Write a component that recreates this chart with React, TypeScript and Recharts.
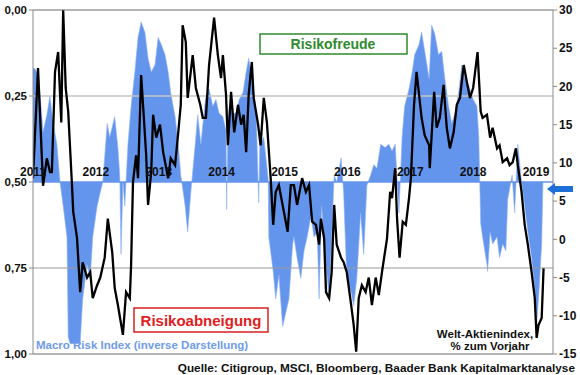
import { Area, ComposedChart, Line, ReferenceDot, ReferenceLine, XAxis, YAxis } from 'recharts';

// Welt-Aktienindex, % zum Vorjahr (rechte Achse) – Zeit in Jahren seit Jan 2011
const stockYears = [
  0.0, 0.08, 0.16, 0.22, 0.27, 0.3, 0.35, 0.4, 0.45, 0.48, 0.52, 0.56, 0.62, 0.64, 0.7, 0.75, 0.79, 0.86,
  0.91, 0.95, 1.02, 1.07, 1.14, 1.19, 1.26, 1.3, 1.35, 1.43, 1.48, 1.54, 1.56, 1.59, 1.64, 1.67, 1.72, 1.75,
  1.8, 1.83, 1.88, 1.91, 1.96, 2.02, 2.07, 2.15, 2.19, 2.26, 2.31, 2.35, 2.38, 2.43, 2.46, 2.54, 2.59, 2.66,
  2.7, 2.75, 2.8, 2.88, 2.94, 2.99, 3.02, 3.07, 3.1, 3.15, 3.2, 3.26, 3.31, 3.35, 3.39, 3.43, 3.48, 3.51,
  3.58, 3.62, 3.67, 3.72, 3.78, 3.82, 3.86, 3.91, 3.99, 4.05, 4.1, 4.15, 4.2, 4.28, 4.34, 4.39, 4.44, 4.5,
  4.55, 4.58, 4.63, 4.66, 4.71, 4.75, 4.79, 4.83, 4.9, 4.94, 4.99, 5.06, 5.1, 5.14, 5.18, 5.23, 5.29, 5.34,
  5.39, 5.45, 5.5, 5.55, 5.63, 5.68, 5.71, 5.76, 5.79, 5.83, 5.88, 5.93, 5.98, 6.01, 6.06, 6.1, 6.14, 6.18,
  6.23, 6.3, 6.31, 6.38, 6.42, 6.47, 6.53, 6.58, 6.63, 6.69, 6.74, 6.79, 6.85, 6.9, 6.95, 7.0, 7.07, 7.12,
  7.15, 7.22, 7.27, 7.31, 7.38, 7.42, 7.47, 7.54, 7.58, 7.63, 7.68, 7.71, 7.77, 7.82, 7.87, 7.93, 7.98, 8.01,
  8.04, 8.09, 8.12,
];
const stockValues = [
  8, 22.4, 7, 10.6, 8.8, 8.8, 21.9, 24.5, 15.3, 30, 19.8, 16.7, 7.1, 3.6, 0.2, -6.9, -3, -5,
  -4.3, -7.7, -6, -5, -2.4, 2.7, -1.7, -6.4, -8.6, -12.5, -6.9, -7.7, -3.4, 7.5, 11, 8, 21.5, 17.6,
  11, 4.5, 8.8, 16.3, 13.3, 15, 11.4, 8, 10.6, 9.7, 14, 17.6, 28, 25.8, 18.5, 24.1, 19.8, 17.6,
  15.9, 15.9, 22.8, 29, 24.1, 21.1, 24.1, 18.9, 12.3, 19.3, 14, 17.6, 15, 16.3, 11.4, 18.9, 23.2, 18.5,
  15, 12.3, 18.5, 15.3, 8, 1.9, 6.2, 7.1, 3.6, 1, 7.1, 7.1, 4.5, 8, 6.2, 7.1, 2.3, 1.9,
  -0.7, 2.7, 0.1, -6.9, -7.7, -4.3, 4.5, -0.7, -2.4, -3, -4.3, -8.6, -11.2, -14.7, -7.7, -6, -6.9, -5,
  -8.6, -5, -7.3, -4.3, 0.1, 6.2, 5.4, 9.3, 2.7, -2.4, 2.3, 1.9, 5.4, 8, 17.6, 21.9, 18.9, 15.9,
  13.6, 12.3, 9.3, 19.3, 14.6, 15.9, 20.2, 14.6, 11.9, 14, 17.6, 18.5, 22.8, 20.6, 18.5, 19.8, 24.5, 16.7,
  15.9, 16.3, 13.3, 14.6, 11.9, 12.3, 10.1, 10.6, 9.7, 10.1, 11.9, 9.7, 6.2, 1.9, -0.7, -4.3, -7.7, -12.9,
  -11.2, -10.3, -3.8,
];

// Macro Risk Index (linke Achse, invertiert) – Zeit in Jahren seit Jan 2011
const riskYears = [
  0.0, 0.03, 0.06, 0.11, 0.16, 0.22, 0.27, 0.32, 0.38, 0.43, 0.48, 0.54, 0.56, 0.59, 0.67, 0.75, 0.79, 0.86,
  0.91, 0.95, 1.02, 1.07, 1.11, 1.18, 1.22, 1.3, 1.35, 1.38, 1.4, 1.43, 1.46, 1.51, 1.56, 1.62, 1.67, 1.72,
  1.78, 1.83, 1.88, 1.94, 1.99, 2.04, 2.1, 2.15, 2.19, 2.26, 2.31, 2.35, 2.42, 2.46, 2.51, 2.58, 2.62, 2.67,
  2.73, 2.75, 2.8, 2.86, 2.91, 2.96, 3.02, 3.07, 3.08, 3.1, 3.12, 3.18, 3.23, 3.28, 3.34, 3.39, 3.43, 3.5,
  3.55, 3.59, 3.61, 3.62, 3.67, 3.74, 3.75, 3.82, 3.86, 3.91, 3.97, 4.02, 4.07, 4.13, 4.15, 4.2, 4.26, 4.31,
  4.36, 4.42, 4.47, 4.52, 4.55, 4.59, 4.66, 4.71, 4.75, 4.79, 4.83, 4.9, 4.94, 4.99, 5.06, 5.1, 5.15, 5.21,
  5.26, 5.31, 5.37, 5.42, 5.47, 5.53, 5.6, 5.66, 5.71, 5.76, 5.82, 5.87, 5.91, 5.98, 6.03, 6.07, 6.14, 6.18,
  6.23, 6.3, 6.34, 6.39, 6.45, 6.5, 6.55, 6.61, 6.66, 6.71, 6.77, 6.82, 6.87, 6.93, 7.0, 7.06, 7.09, 7.12,
  7.15, 7.22, 7.23, 7.27, 7.31, 7.38, 7.42, 7.47, 7.52, 7.55, 7.62, 7.66, 7.71, 7.77, 7.82, 7.87, 7.93, 7.98,
  8.01, 8.04, 8.09, 8.11,
];
const riskValues = [
  0.17, 0.17, 0.18, 0.24, 0.355, 0.305, 0.25, 0.33, 0.39, 0.5, 0.57, 0.66, 0.95, 0.97, 0.97, 0.97, 0.84, 0.74,
  0.78, 0.66, 0.57, 0.53, 0.5, 0.33, 0.37, 0.31, 0.4, 0.48, 0.71, 0.5, 0.57, 0.39, 0.28, 0.18, 0.08, 0.035,
  0.065, 0.14, 0.18, 0.16, 0.08, 0.1, 0.13, 0.18, 0.24, 0.31, 0.39, 0.48, 0.57, 0.645, 0.53, 0.39, 0.305, 0.39,
  0.28, 0.25, 0.23, 0.28, 0.26, 0.3, 0.31, 0.35, 0.58, 0.33, 0.28, 0.3, 0.3, 0.26, 0.24, 0.18, 0.14, 0.22,
  0.3, 0.56, 0.35, 0.39, 0.37, 0.49, 0.66, 0.76, 0.84, 0.77, 0.92, 0.88, 0.84, 0.68, 0.66, 0.72, 0.78, 0.7,
  0.66, 0.6, 0.66, 0.645, 0.84, 0.57, 0.74, 0.84, 0.66, 0.48, 0.5, 0.43, 0.53, 0.78, 0.82, 0.86, 0.78, 0.59,
  0.71, 0.51, 0.48, 0.45, 0.46, 0.39, 0.4, 0.39, 0.41, 0.39, 0.59, 0.37, 0.28, 0.23, 0.18, 0.13, 0.1, 0.064,
  0.12, 0.2, 0.044, 0.07, 0.13, 0.12, 0.2, 0.28, 0.33, 0.3, 0.24, 0.16, 0.2, 0.22, 0.26, 0.28, 0.37, 0.62,
  0.66, 0.74, 0.76, 0.645, 0.68, 0.66, 0.72, 0.68, 0.7, 0.55, 0.48, 0.59, 0.39, 0.5, 0.57, 0.645, 0.72, 0.81,
  0.91, 0.84, 0.68, 0.5,
];

const yearLabels = [2011, 2012, 2013, 2014, 2015, 2016, 2017, 2018, 2019];
const leftTicks = [0, 0.25, 0.5, 0.75, 1];
const rightTicks = [-15, -10, -5, 0, 5, 10, 15, 20, 25, 30];

const stockData = stockYears.map((y, i) => ({ t: 2011 + y, v: stockValues[i] }));
const riskData = riskYears.map((y, i) => ({ t: 2011 + y, v: riskValues[i] }));

const FONT = 'Arial, "Liberation Sans", sans-serif';
const BLUE = '#6495ED';

export default function App() {
  return (
    <div style={{ position: 'absolute', left: 0, top: 0, width: 580, height: 375, background: '#fff', fontFamily: FONT }}>
      <ComposedChart width={580} height={375} margin={{ top: 10, right: 0, bottom: 21, left: 0 }}>
        <XAxis dataKey="t" type="number" domain={[2011, 2019.27]} allowDataOverflow hide />
        <YAxis
          yAxisId="left"
          orientation="left"
          domain={[0, 1]}
          reversed
          ticks={leftTicks}
          width={33}
          tickSize={4}
          tickFormatter={(v: number) => v.toFixed(2).replace('.', ',')}
          tick={{ fill: '#111', fontSize: 11.5, fontWeight: 700, fontFamily: FONT }}
          axisLine={{ stroke: '#8a8a8a' }}
          tickLine={{ stroke: '#8a8a8a' }}
        />
        <YAxis
          yAxisId="right"
          orientation="right"
          domain={[-15, 30]}
          ticks={rightTicks}
          width={27}
          tickSize={4}
          tick={{ fill: '#111', fontSize: 12, fontWeight: 700, fontFamily: FONT }}
          axisLine={{ stroke: '#8a8a8a' }}
          tickLine={{ stroke: '#8a8a8a' }}
        />
        <ReferenceLine yAxisId="left" y={0.25} stroke="#c4c4c4" strokeWidth={1.5} />
        <ReferenceLine yAxisId="left" y={0.75} stroke="#9a9a9a" />
        <Area
          yAxisId="left"
          data={riskData}
          dataKey="v"
          type="linear"
          baseValue={0.5}
          fill={BLUE}
          fillOpacity={1}
          stroke="#8fb3f2"
          strokeWidth={0.6}
          isAnimationActive={false}
        />
        <ReferenceLine yAxisId="left" y={0.5} stroke={BLUE} strokeWidth={1.5} />
        {yearLabels.map((y) => (
          <ReferenceDot
            key={y}
            yAxisId="left"
            x={y}
            y={0.5}
            r={0}
            fill="none"
            stroke="none"
            label={{ value: String(y), position: 'top', offset: 6, fill: '#111', fontSize: 12, fontWeight: 700, fontFamily: FONT }}
          />
        ))}
        <Line
          yAxisId="right"
          data={stockData}
          dataKey="v"
          type="linear"
          stroke="#000"
          strokeWidth={2.3}
          dot={false}
          isAnimationActive={false}
        />
        <ReferenceLine yAxisId="left" y={0} stroke="#6a6a6a" />
        <ReferenceLine yAxisId="left" y={1} stroke="#6a6a6a" />
      </ComposedChart>
      <svg width={580} height={375} style={{ position: 'absolute', left: 0, top: 0, pointerEvents: 'none' }}>
        <rect x={260} y={34} width={147} height={20} fill="#fff" stroke="#2e8b2e" strokeWidth={1.5} />
        <text x={333} y={49} textAnchor="middle" fill="#2e8b2e" fontSize={14} fontWeight={700} fontFamily={FONT}>
          Risikofreude
        </text>
        <rect x={134} y={308} width={134} height={24} fill="#fff" stroke="#d92020" strokeWidth={1.5} />
        <text x={201} y={326} textAnchor="middle" fill="#e02020" fontSize={15} fontWeight={700} fontFamily={FONT}>
          Risikoabneigung
        </text>
        <text x={36} y={349} fill="#6f9be9" fontSize={11.5} fontWeight={700} fontFamily={FONT}>
          Macro Risk Index (inverse Darstellung)
        </text>
        <text x={485} y={338} textAnchor="middle" fill="#111" fontSize={11.5} fontWeight={700} fontFamily={FONT}>
          Welt-Aktienindex,
        </text>
        <text x={490} y={350} textAnchor="middle" fill="#111" fontSize={11.5} fontWeight={700} fontFamily={FONT}>
          % zum Vorjahr
        </text>
        <text x={575} y={372} textAnchor="end" fill="#111" fontSize={11.8} fontWeight={700} fontFamily={FONT}>
          Quelle: Citigroup, MSCI, Bloomberg, Baader Bank Kapitalmarktanalyse
        </text>
        <polygon points="547,189 555,183 555,186 573,186 573,192 555,192 555,195" fill="#1f6fd8" />
      </svg>
    </div>
  );
}
